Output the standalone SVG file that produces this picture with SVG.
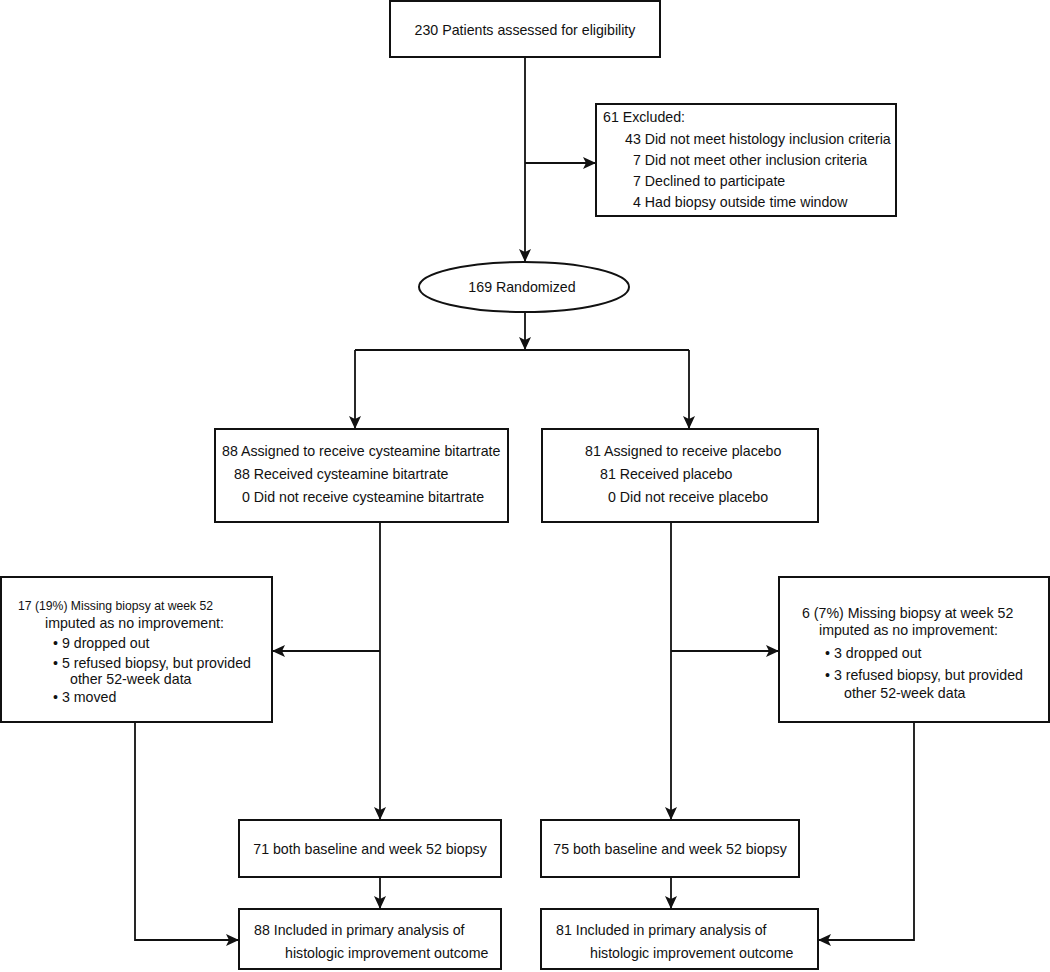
<svg xmlns="http://www.w3.org/2000/svg" width="1050" height="972" viewBox="0 0 1050 972">
<style>
.box{fill:#fff;stroke:#111;stroke-width:2}
.ln{fill:none;stroke:#111;stroke-width:1.8}
.arr{marker-end:url(#ah)}
text{font-family:"Liberation Sans",Arial,sans-serif;font-size:14.2px;fill:#111}
.sm{font-size:12.2px}
.c{text-anchor:middle}
</style>
<defs>
<marker id="ah" markerUnits="userSpaceOnUse" markerWidth="14" markerHeight="12" refX="13" refY="6" orient="auto">
<path d="M0,0 L13,6 L0,12 L3,6 z" fill="#111"/>
</marker>
</defs>
<rect width="1050" height="972" fill="#fff"/>
<g id="connectors">
<path class="ln arr" d="M525,57 V262"/>
<path class="ln arr" d="M525,163 H596"/>
<path class="ln arr" d="M525,312 V350"/>
<path class="ln" d="M355,350 H689"/>
<path class="ln arr" d="M355,350 V429"/>
<path class="ln arr" d="M689,350 V429"/>
<path class="ln arr" d="M380,522 V820"/>
<path class="ln arr" d="M380,651 H272"/>
<path class="ln arr" d="M671,522 V820"/>
<path class="ln arr" d="M671,651 H779"/>
<path class="ln arr" d="M380,877 V909"/>
<path class="ln arr" d="M671,877 V909"/>
<path class="ln arr" d="M135,722 V940 H239"/>
<path class="ln arr" d="M914,722 V940 H818"/>
</g>
<g id="n-assessed">
<rect class="box" x="390" y="1" width="270" height="56"/>
<text class="c" x="525" y="35">230 Patients assessed for eligibility</text>
</g>
<g id="n-excluded">
<rect class="box" x="596" y="104" width="300" height="112"/>
<text x="603" y="122">61 Excluded:</text>
<text x="625" y="144">43 Did not meet histology inclusion criteria</text>
<text x="633" y="165">7 Did not meet other inclusion criteria</text>
<text x="633" y="186">7 Declined to participate</text>
<text x="633" y="207">4 Had biopsy outside time window</text>
</g>
<g id="n-randomized">
<ellipse cx="524" cy="287" rx="105" ry="25" fill="#fff" stroke="#111" stroke-width="2"/>
<text class="c" x="522" y="292">169 Randomized</text>
</g>
<g id="n-cyst">
<rect class="box" x="215" y="429" width="293" height="93"/>
<text x="222" y="456">88 Assigned to receive cysteamine bitartrate</text>
<text x="234" y="479">88 Received cysteamine bitartrate</text>
<text x="242" y="502">0 Did not receive cysteamine bitartrate</text>
</g>
<g id="n-placebo">
<rect class="box" x="542" y="429" width="276" height="93"/>
<text x="585" y="456">81 Assigned to receive placebo</text>
<text x="600" y="479">81 Received placebo</text>
<text x="608" y="502">0 Did not receive placebo</text>
</g>
<g id="n-missing-cyst">
<rect class="box" x="1" y="577" width="271" height="145"/>
<text class="sm" x="18" y="610">17 (19%) Missing biopsy at week 52</text>
<text x="45" y="628">imputed as no improvement:</text>
<text x="53" y="648">• 9 dropped out</text>
<text x="53" y="668">• 5 refused biopsy, but provided</text>
<text x="70" y="684">other 52-week data</text>
<text x="53" y="702">• 3 moved</text>
</g>
<g id="n-missing-plac">
<rect class="box" x="779" y="577" width="270" height="145"/>
<text x="802" y="618">6 (7%) Missing biopsy at week 52</text>
<text x="819" y="635">imputed as no improvement:</text>
<text x="825" y="658">• 3 dropped out</text>
<text x="825" y="680">• 3 refused biopsy, but provided</text>
<text x="844" y="698">other 52-week data</text>
</g>
<g id="n-both-cyst">
<rect class="box" x="239" y="820" width="262" height="57"/>
<text class="c" x="370" y="854">71 both baseline and week 52 biopsy</text>
</g>
<g id="n-both-plac">
<rect class="box" x="541" y="820" width="258" height="57"/>
<text class="c" x="670" y="854">75 both baseline and week 52 biopsy</text>
</g>
<g id="n-incl-cyst">
<rect class="box" x="239" y="909" width="262" height="60"/>
<text x="254" y="935">88 Included in primary analysis of</text>
<text x="285" y="958">histologic improvement outcome</text>
</g>
<g id="n-incl-plac">
<rect class="box" x="541" y="909" width="277" height="60"/>
<text x="556" y="935">81 Included in primary analysis of</text>
<text x="590" y="958">histologic improvement outcome</text>
</g>
</svg>
